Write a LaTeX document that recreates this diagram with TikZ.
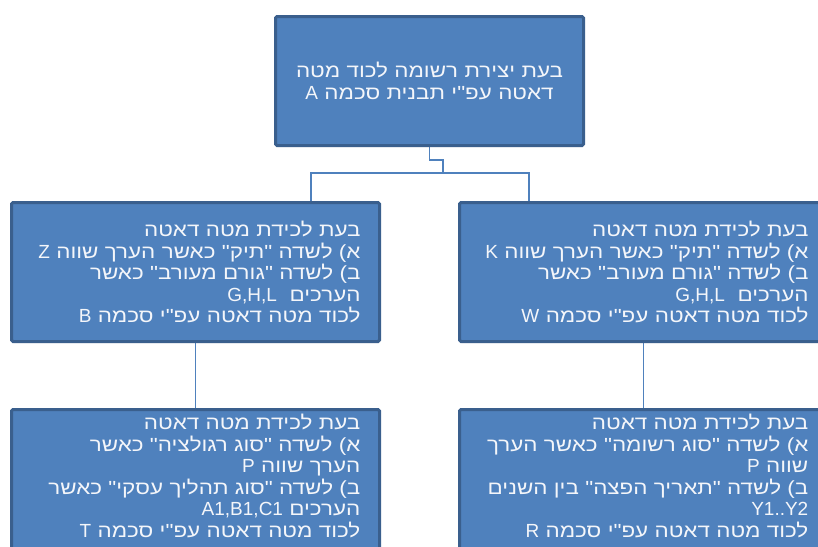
\documentclass[tikz,border=0pt]{standalone}
\usepackage{fontspec}
\TeXXeTstate=1
\newfontfamily\heb[Script=Hebrew,FakeStretch=1.18]{Liberation Sans}
\newfontfamily\latf{Liberation Sans}
\usetikzlibrary{backgrounds,shadows,calc}
\definecolor{boxfill}{HTML}{4F81BD}
\definecolor{boxline}{HTML}{3A5F8D}
\definecolor{connc}{HTML}{4F81BD}
\definecolor{txtc}{HTML}{F4F6FA}
\newcommand\rl[1]{\beginR #1\endR}
\newcommand\la[1]{{\latf #1}}
\begin{document}
\begin{tikzpicture}[x=1pt,y=1pt,
  box/.style={draw=boxline, fill=boxfill, line width=3pt, rounded corners=1.5pt,
    drop shadow={opacity=0.18, shadow xshift=1pt, shadow yshift=-1.5pt}},
  txt/.style={text=txtc, font=\heb\fontsize{19pt}{21.5pt}\selectfont},
  midbox/.style={box, txt, align=right, text width=330pt, inner xsep=19pt,
    minimum width=368pt, minimum height=139pt},
  conn/.style={draw=connc, line width=1.3pt}]
\useasboundingbox (0,0) rectangle (818,-546);
\clip (0,0) rectangle (818,-546);

% top box
\node[box, txt, align=center, text width=295pt, minimum width=308pt, minimum height=129pt]
  (top) at (429.5,-81) {\rl{בעת יצירת רשומה לכוד מטה}\\ \rl{דאטה עפ"י תבנית סכמה \la{A}}};

% middle boxes
\node[midbox] (midL) at (195.5,-272) {%
\rl{בעת לכידת מטה דאטה}\\
\rl{א) לשדה "תיק" כאשר הערך שווה \la{Z}}\\
\rl{ב) לשדה "גורם מעורב" כאשר}\\
\rl{הערכים \ \la{G,H,L}}\\
\rl{לכוד מטה דאטה עפ"י סכמה \la{B}}};

\node[midbox] (midR) at (643.5,-272) {%
\rl{בעת לכידת מטה דאטה}\\
\rl{א) לשדה "תיק" כאשר הערך שווה \la{K}}\\
\rl{ב) לשדה "גורם מעורב" כאשר}\\
\rl{הערכים \ \la{G,H,L}}\\
\rl{לכוד מטה דאטה עפ"י סכמה \la{W}}};

% bottom boxes
\node[box, anchor=north, minimum width=368pt, minimum height=180pt] (botL) at (195.5,-408) {};
\node[txt, align=right, anchor=north east, inner sep=0pt, text width=340pt] (botLt)
  at ($(botL.north east)+(-20.5,-6)$) {%
\rl{בעת לכידת מטה דאטה}\\
\rl{א) לשדה "סוג רגולציה" כאשר}\\
\rl{הערך שווה \la{P}}\\
\rl{ב) לשדה "סוג תהליך עסקי" כאשר}\\
\rl{הערכים \la{A1,B1,C1}}\\
\rl{לכוד מטה דאטה עפ"י סכמה \la{T}}};

\node[box, anchor=north, minimum width=368pt, minimum height=180pt] (botR) at (643.5,-408) {};
\node[txt, align=right, anchor=north east, inner sep=0pt, text width=340pt] (botRt)
  at ($(botR.north east)+(-20.5,-6)$) {%
\rl{בעת לכידת מטה דאטה}\\
\rl{א) לשדה "סוג רשומה" כאשר הערך}\\
\rl{שווה \la{P}}\\
\rl{ב) לשדה "תאריך הפצה" בין השנים}\\
\rl{\la{Y1..Y2}}\\
\rl{לכוד מטה דאטה עפ"י סכמה \la{R}}};

% connectors
\coordinate (jA) at (443,-160);
\coordinate (jB) at (443,-173);
\begin{scope}[on background layer]
\draw[conn] (top.south) |- (jA) -- (jB);
\draw[conn] (jB) -| ([xshift=115.5pt]midL.north);
\draw[conn] (jB) -| ([xshift=-114.5pt]midR.north);
\draw[conn] (midL.south) -- (botL.north);
\draw[conn] (midR.south) -- (botR.north);
\end{scope}
\end{tikzpicture}
\end{document}
